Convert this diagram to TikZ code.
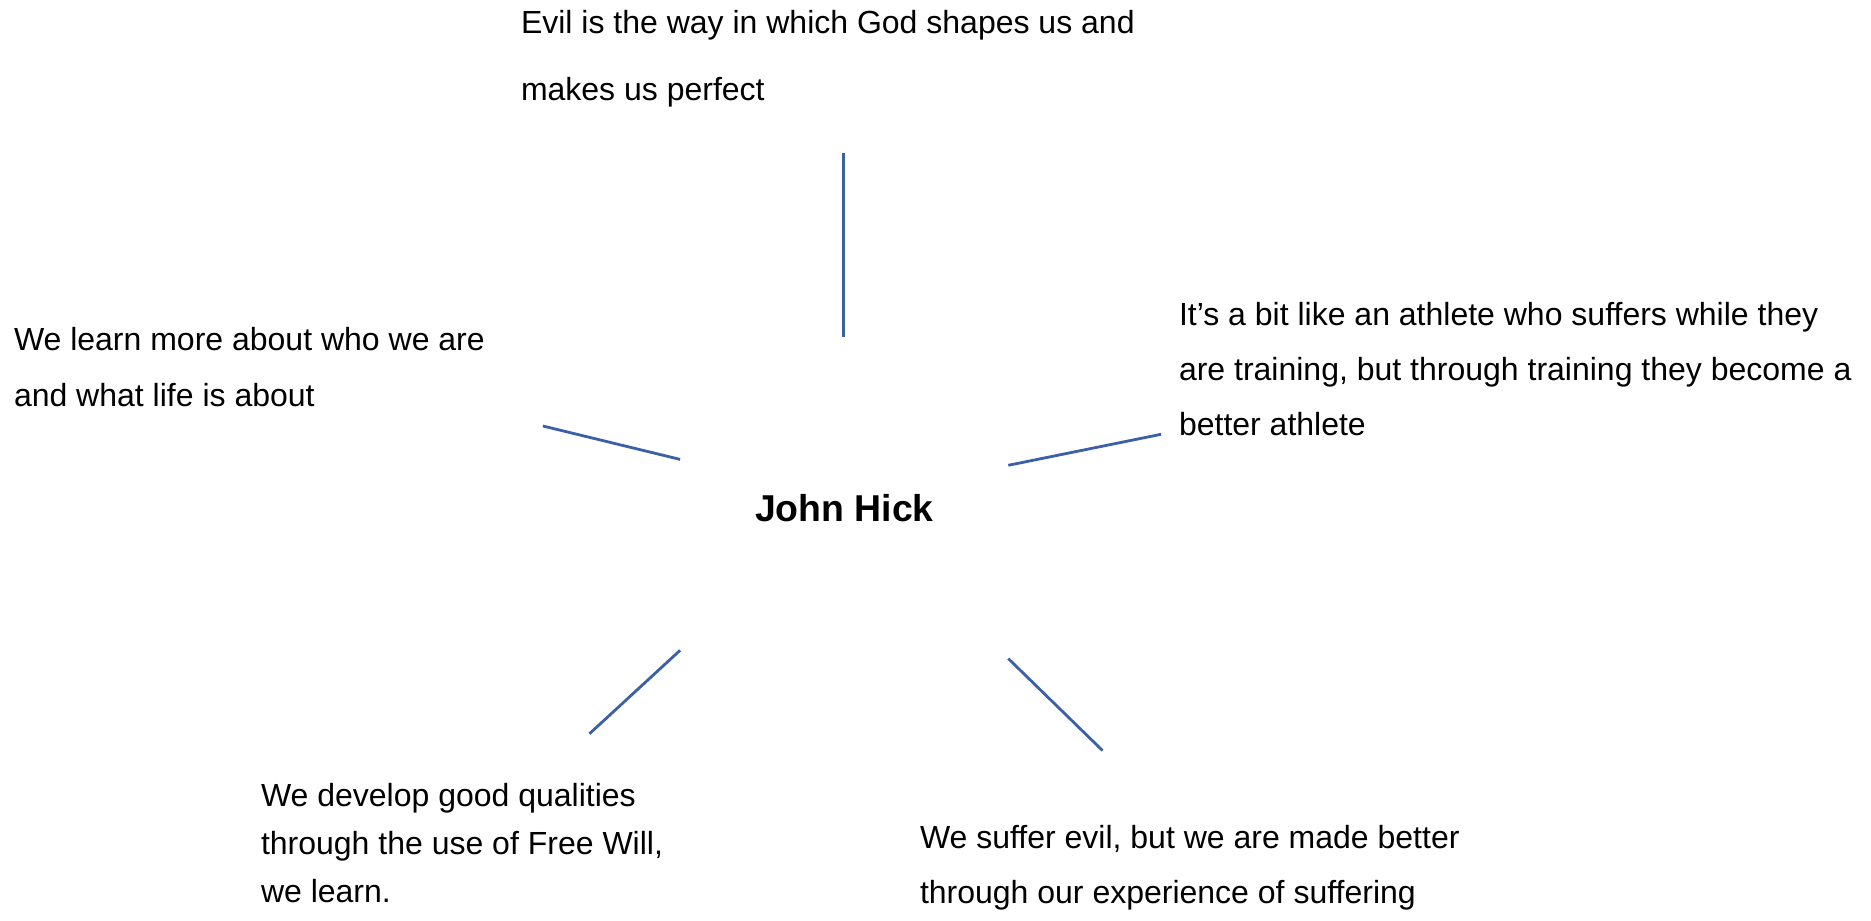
\documentclass[tikz,border=0pt]{standalone}
\usepackage{fontspec}
\setmainfont{Liberation Sans}
% rows of left-aligned text; the block's baseline is its first row
\newcommand\textrows[1]{\vtop{\halign{##\hfil\cr#1\crcr}}}
\definecolor{spoke}{RGB}{60,96,168}
\begin{document}
\begin{tikzpicture}[x=0.5pt,y=-0.5pt,
  idea/.style={anchor=base west,inner sep=0pt,outer sep=0pt},
  spokeline/.style={draw=spoke,line width=1.4pt}]
\useasboundingbox (0,0) rectangle (1871,920);

% centre
\node[idea,font=\fontsize{18.7}{22}\selectfont\bfseries] (hick) at (755,521) {John Hick};

% surrounding statements
\node[idea,font=\fontsize{16}{33}\selectfont] (top) at (521,34)
  {\textrows{Evil is the way in which God shapes us and\cr makes us perfect}};
\node[idea,font=\fontsize{16}{28}\selectfont] (left) at (14,350)
  {\textrows{We learn more about who we are\cr and what life is about}};
\node[idea,font=\fontsize{16}{27.5}\selectfont] (right) at (1179,325)
  {\textrows{It’s a bit like an athlete who suffers while they\cr are training, but through training they become a\cr better athlete}};
\node[idea,font=\fontsize{16}{24}\selectfont] (lowleft) at (261,806)
  {\textrows{We develop good qualities\cr through the use of Free Will,\cr we learn.}};
\node[idea,font=\fontsize{16}{27.5}\selectfont] (lowright) at (920,848)
  {\textrows{We suffer evil, but we are made better\cr through our experience of suffering}};

% spoke end points
\coordinate (t1) at (843.6,152.7);  \coordinate (t2) at (843.6,336.5);
\coordinate (l1) at (542.9,426);    \coordinate (l2) at (680.1,459.4);
\coordinate (r1) at (1008.3,465.3); \coordinate (r2) at (1161,434.3);
\coordinate (a1) at (680.1,650.3);  \coordinate (a2) at (589.4,733.8);
\coordinate (b1) at (1008.3,658.6); \coordinate (b2) at (1102.5,750.5);

\draw[spokeline] (t1) -- (t2);
\draw[spokeline] (l1) -- (l2);
\draw[spokeline] (r1) -- (r2);
\draw[spokeline] (a1) -- (a2);
\draw[spokeline] (b1) -- (b2);
\end{tikzpicture}
\end{document}
